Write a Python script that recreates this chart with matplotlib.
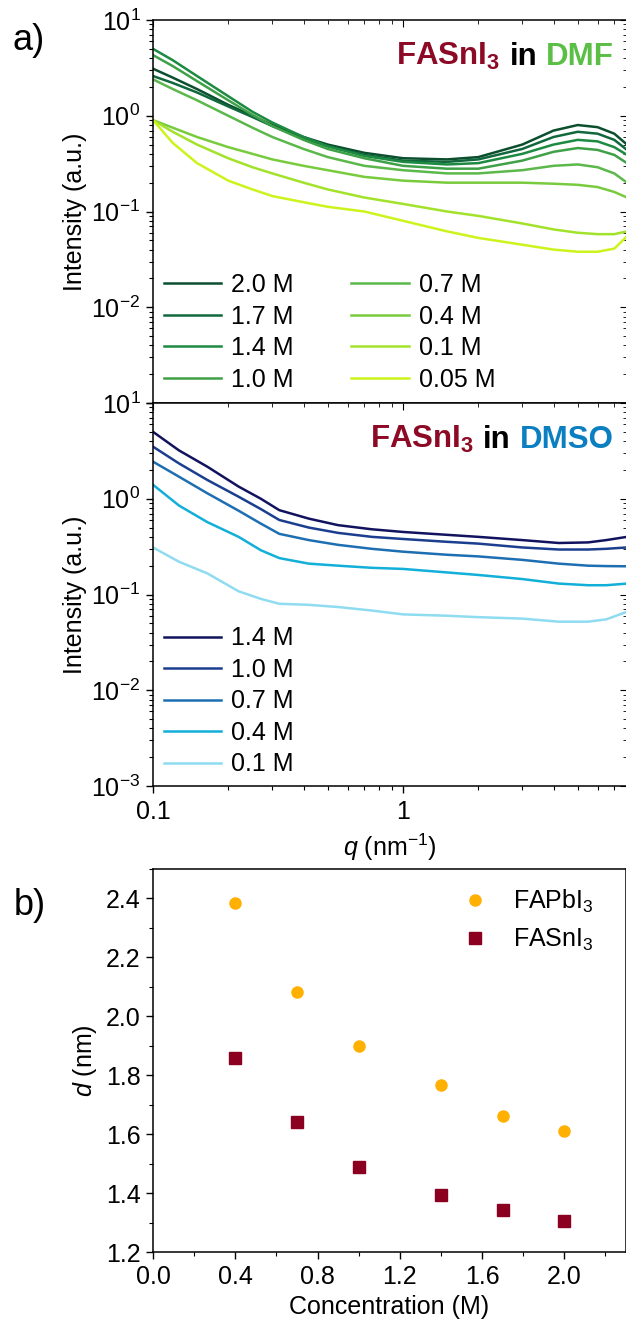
import numpy as np
import matplotlib.pyplot as plt
from matplotlib import ticker
from matplotlib.transforms import offset_copy

plt.rcParams['font.family'] = ['Liberation Sans', 'DejaVu Sans']
plt.rcParams['mathtext.fontset'] = 'custom'
plt.rcParams['mathtext.rm'] = 'Liberation Sans'
plt.rcParams['mathtext.it'] = 'Liberation Sans:italic'
plt.rcParams['mathtext.bf'] = 'Liberation Sans:bold'
plt.rcParams['mathtext.default'] = 'regular'

# ---- a) SAXS in DMF ----
q_dmf = [0.1, 0.12, 0.15, 0.2, 0.25, 0.3, 0.4, 0.5, 0.7, 1.0, 1.5, 2.0, 3.0, 4.0, 5.0, 6.0, 7.0, 7.87]
dmf_labels = ['2.0 M', '1.7 M', '1.4 M', '1.0 M', '0.7 M', '0.4 M', '0.1 M', '0.05 M']
dmf_I = [
    [3.1, 2.5, 1.9, 1.3, 1.0, 0.8, 0.6, 0.5, 0.41, 0.36, 0.35, 0.37, 0.5, 0.7, 0.8, 0.76, 0.65, 0.5],
    [2.6, 2.2, 1.75, 1.25, 0.97, 0.78, 0.58, 0.48, 0.39, 0.34, 0.33, 0.35, 0.45, 0.6, 0.68, 0.65, 0.56, 0.44],
    [5.0, 3.8, 2.6, 1.6, 1.1, 0.85, 0.6, 0.48, 0.38, 0.33, 0.31, 0.32, 0.4, 0.5, 0.56, 0.54, 0.47, 0.39],
    [4.3, 3.3, 2.3, 1.45, 1.02, 0.78, 0.56, 0.45, 0.36, 0.3, 0.28, 0.28, 0.34, 0.42, 0.46, 0.44, 0.39, 0.32],
    [2.4, 1.9, 1.45, 1.0, 0.75, 0.6, 0.45, 0.37, 0.3, 0.27, 0.25, 0.25, 0.27, 0.3, 0.31, 0.29, 0.25, 0.2],
    [0.9, 0.75, 0.6, 0.47, 0.4, 0.35, 0.3, 0.27, 0.23, 0.21, 0.2, 0.2, 0.2, 0.195, 0.19, 0.18, 0.16, 0.14],
    [0.9, 0.68, 0.5, 0.36, 0.29, 0.25, 0.2, 0.17, 0.14, 0.12, 0.1, 0.09, 0.075, 0.065, 0.06, 0.058, 0.058, 0.062],
    [0.9, 0.52, 0.32, 0.21, 0.17, 0.145, 0.125, 0.112, 0.1, 0.08, 0.062, 0.053, 0.045, 0.04, 0.038, 0.038, 0.041, 0.055],
]
dmf_colors = ['#0b4f2e', '#10683c', '#1d8a42', '#3ea147', '#5bb84a', '#79cb3e', '#a3e22a', '#ccf41c']

# ---- a) SAXS in DMSO ----
q_dmso = [0.1, 0.127, 0.165, 0.22, 0.27, 0.32, 0.42, 0.55, 0.75, 1.0, 1.5, 2.0, 3.0, 4.2, 5.5, 6.5, 7.87]
dmso_labels = ['1.4 M', '1.0 M', '0.7 M', '0.4 M', '0.1 M']
dmso_I = [
    [5.0, 3.2, 2.16, 1.34, 1.0, 0.76, 0.62, 0.53, 0.48, 0.45, 0.42, 0.40, 0.37, 0.345, 0.35, 0.37, 0.40],
    [3.5, 2.34, 1.57, 1.05, 0.78, 0.6, 0.5, 0.44, 0.40, 0.38, 0.355, 0.34, 0.31, 0.295, 0.295, 0.30, 0.31],
    [2.44, 1.7, 1.14, 0.75, 0.55, 0.43, 0.37, 0.33, 0.30, 0.28, 0.26, 0.25, 0.23, 0.21, 0.20, 0.198, 0.197],
    [1.4, 0.85, 0.57, 0.4, 0.29, 0.24, 0.21, 0.2, 0.19, 0.185, 0.17, 0.16, 0.145, 0.13, 0.125, 0.125, 0.13],
    [0.31, 0.22, 0.166, 0.108, 0.09, 0.08, 0.078, 0.074, 0.068, 0.062, 0.06, 0.058, 0.056, 0.052, 0.052, 0.055, 0.066],
]
dmso_colors = ['#12135f', '#1b3e8f', '#1e6fb2', '#12afd8', '#8fdcf0']

# ---- b) d spacing ----
conc = [0.4, 0.7, 1.0, 1.4, 1.7, 2.0]
d_pb = [2.384, 2.082, 1.900, 1.766, 1.663, 1.612]
d_sn = [1.859, 1.640, 1.488, 1.393, 1.342, 1.304]

red = '#8c0a25'
FS = 18

W, H = 626, 1324
fig = plt.figure(figsize=(W / 100, H / 100), dpi=100)


def px_axes(left, top, right, bottom):
    return fig.add_axes([left / W, 1 - bottom / H, (right - left) / W, (bottom - top) / H])


def title_parts(ax, parts, x, y, size):
    r = fig.canvas.get_renderer()
    shift = 0.0
    for text, color in reversed(parts):
        tr = offset_copy(ax.transAxes, fig=fig, x=-shift, y=0, units='dots')
        t = ax.text(x, y, text, transform=tr, color=color, fontsize=size,
                    fontweight='bold', ha='right', va='baseline')
        shift += t.get_window_extent(r).width + 9


def style_log(ax, hide_bottom):
    ax.set_xscale('log')
    ax.set_yscale('log')
    ax.set_xlim(0.1, 7.87)
    ax.set_ylim(1e-3, 10)
    ax.yaxis.set_major_locator(ticker.FixedLocator([1e-3, 1e-2, 1e-1, 1, 10]))
    ax.yaxis.set_minor_locator(ticker.LogLocator(base=10, subs=np.arange(2, 10)))
    fmt = ticker.LogFormatterMathtext()
    ax.yaxis.set_major_formatter(ticker.FuncFormatter(
        lambda v, p: '' if (hide_bottom and v < 2e-3) else fmt(v, p)))
    ax.yaxis.set_minor_formatter(ticker.NullFormatter())
    ax.xaxis.set_major_locator(ticker.FixedLocator([0.1, 1]))
    ax.xaxis.set_minor_locator(ticker.LogLocator(base=10, subs=np.arange(2, 10)))
    ax.xaxis.set_minor_formatter(ticker.NullFormatter())
    ax.tick_params(which='major', length=5, width=1, direction='out', labelsize=FS, pad=4)
    ax.tick_params(which='minor', length=3, width=0.8, direction='out')
    for s in ax.spines.values():
        s.set_linewidth(1.1)
    top = ax.secondary_xaxis('top')
    top.tick_params(which='both', direction='in', labeltop=False)
    top.tick_params(which='major', length=5)
    top.tick_params(which='minor', length=3)
    top.spines['top'].set_visible(False)
    right = ax.secondary_yaxis('right')
    right.tick_params(which='both', direction='in', labelright=False)
    right.tick_params(which='major', length=5)
    right.tick_params(which='minor', length=3)
    ax.set_ylabel('Intensity (a.u.)', fontsize=FS)
    ax.yaxis.set_label_coords(-0.14, 0.5)


ax1 = px_axes(153, 20, 627, 403)
for I, c, lab in zip(dmf_I, dmf_colors, dmf_labels):
    ax1.plot(q_dmf, I, color=c, lw=1.8, label=lab)
style_log(ax1, True)
ax1.set_xticklabels([])
ax1.legend(ncol=2, loc='lower left', bbox_to_anchor=(0.023, 0.03), frameon=False,
           fontsize=FS, handlelength=2.3, handletextpad=0.4, columnspacing=2.3,
           labelspacing=0.3, borderpad=0, borderaxespad=0)
title_parts(ax1, [('FASnI$_\\mathbf{3}$', red), ('in', 'black'), ('DMF', '#5bbf46')],
            0.9726, 0.8825, 22.5)

ax2 = px_axes(153, 403, 627, 786)
for I, c, lab in zip(dmso_I, dmso_colors, dmso_labels):
    ax2.plot(q_dmso, I, color=c, lw=1.8, label=lab)
style_log(ax2, False)
ax2.xaxis.set_major_formatter(ticker.FuncFormatter(lambda v, p: '%g' % v))
ax2.tick_params(axis='x', pad=5)
ax2.set_xlabel('$\\mathit{q}$ (nm$^{-1}$)', fontsize=FS)
ax2.xaxis.set_label_coords(0.5, -0.12)
ax2.legend(loc='lower left', bbox_to_anchor=(0.023, 0.025), frameon=False,
           fontsize=FS, handlelength=2.3, handletextpad=0.4,
           labelspacing=0.3, borderpad=0, borderaxespad=0)
title_parts(ax2, [('FASnI$_\\mathbf{3}$', red), ('in', 'black'), ('DMSO', '#0b7fc0')],
            0.9726, 0.8825, 22.5)

ax3 = px_axes(153, 869, 626, 1252)
ax3.plot(conc, d_pb, 'o', color='#ffb000', ms=8, label='FAPbI$_3$')
ax3.plot(conc, d_sn, 's', color='#8b0021', ms=8, label='FASnI$_3$')
ax3.set_xlim(0, 2.3)
ax3.set_ylim(1.2, 2.5)
ax3.xaxis.set_major_locator(ticker.MultipleLocator(0.4))
ax3.xaxis.set_minor_locator(ticker.MultipleLocator(0.2))
ax3.yaxis.set_major_locator(ticker.MultipleLocator(0.2))
ax3.yaxis.set_minor_locator(ticker.MultipleLocator(0.1))
ax3.xaxis.set_major_formatter(ticker.FormatStrFormatter('%.1f'))
ax3.yaxis.set_major_formatter(ticker.FormatStrFormatter('%.1f'))
ax3.tick_params(which='major', length=5, width=1, labelsize=FS, pad=4)
ax3.tick_params(which='minor', length=3, width=0.8)
for s in ax3.spines.values():
    s.set_linewidth(1.1)
ax3.set_xlabel('Concentration (M)', fontsize=FS)
ax3.xaxis.set_label_coords(0.5, -0.112)
ax3.set_ylabel('$\\mathit{d}$ (nm)', fontsize=FS)
ax3.yaxis.set_label_coords(-0.114, 0.5)
ax3.legend(loc='upper left', bbox_to_anchor=(0.655, 0.95), frameon=False,
           fontsize=FS, handlelength=1.0, handletextpad=1.0, labelspacing=0.45,
           borderpad=0, borderaxespad=0)

fig.text(13 / W, 1 - 23 / H, 'a)', fontsize=26, ha='left', va='top')
fig.text(14 / W, 1 - 888 / H, 'b)', fontsize=26, ha='left', va='top')

fig.savefig('out.png', dpi=100)
